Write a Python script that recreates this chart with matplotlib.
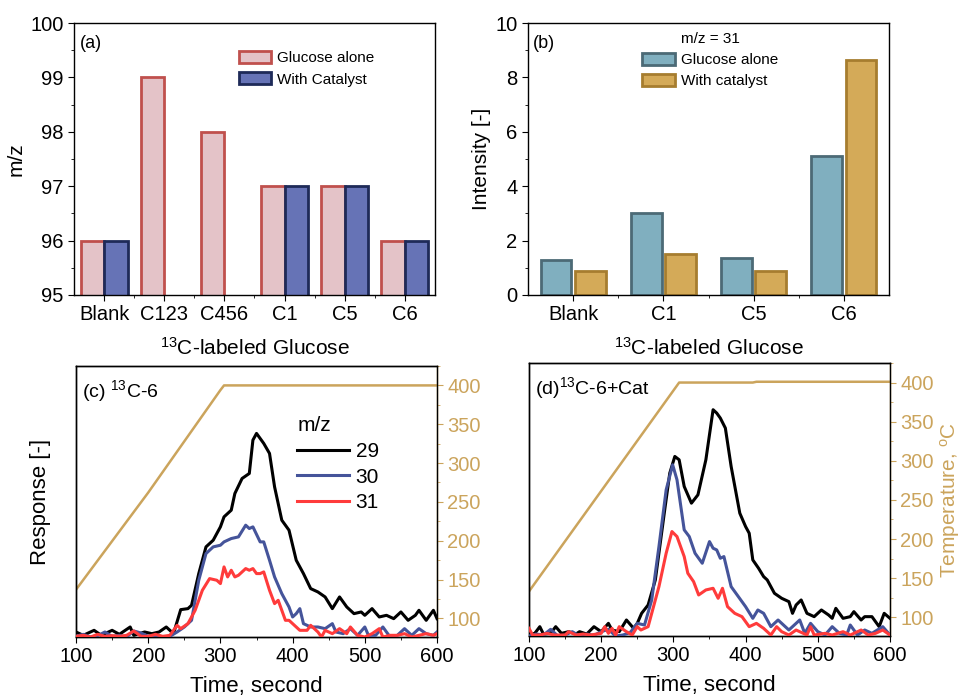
import matplotlib
matplotlib.use("Agg")
import matplotlib.pyplot as plt
from matplotlib.ticker import MultipleLocator, FixedLocator
import numpy as np

plt.rcParams['font.family'] = ['Liberation Sans', 'DejaVu Sans']
plt.rcParams['mathtext.fontset'] = 'custom'
plt.rcParams['mathtext.rm'] = 'Liberation Sans'
plt.rcParams['mathtext.it'] = 'Liberation Sans:italic'
plt.rcParams['xtick.direction'] = 'out'
plt.rcParams['ytick.direction'] = 'out'
plt.rcParams['axes.linewidth'] = 1.0

# ---- panel (a): m/z of the labeled fragment ----
cats_a = ["Blank", "C123", "C456", "C1", "C5", "C6"]
mz_alone = [96, 99, 98, 97, 97, 96]
mz_cat = [96, None, None, 97, 97, 96]

# ---- panel (b): intensity of m/z = 31 ----
cats_b = ["Blank", "C1", "C5", "C6"]
int_alone = [1.27, 3.0, 1.35, 5.12]
int_cat = [0.9, 1.5, 0.9, 8.63]

# ---- panel (c): 13C-6, response (arb. units) ----
tc_29 = [100, 110, 125, 135, 150, 160, 175, 180, 195, 205, 215, 225, 235, 245, 255, 260, 270, 280,
         290, 300, 305, 315, 320, 330, 340, 345, 350, 360, 368, 375, 385, 395, 405, 415, 425, 435,
         445, 455, 465, 475, 485, 495, 500, 510, 520, 530, 540, 550, 560, 570, 575, 585, 595, 600]
rc_29 = [15, 5, 20, 5, 20, 8, 30, 5, 15, 10, 15, 30, 10, 82, 85, 95, 190, 270,
         290, 330, 360, 380, 430, 475, 490, 590, 610, 580, 550, 450, 350, 320, 230, 190, 145, 135,
         120, 85, 120, 90, 70, 75, 65, 85, 60, 65, 55, 75, 50, 65, 80, 50, 80, 55]
tc_30 = [100, 110, 120, 130, 140, 150, 160, 170, 180, 190, 200, 210, 220, 230, 240, 250, 260, 270,
         280, 290, 300, 305, 315, 325, 335, 340, 345, 355, 360, 368, 375, 385, 395, 400, 405, 410,
         415, 425, 435, 445, 455, 460, 470, 480, 490, 500, 505, 515, 525, 535, 545, 555, 565, 575,
         585, 595, 600]
rc_30 = [2, 8, 0, 4, 15, 2, 5, 0, 18, 12, 2, 5, 0, 2, 15, 30, 50, 170,
         250, 270, 275, 285, 295, 300, 335, 325, 330, 285, 285, 230, 180, 130, 90, 60, 70, 85,
         40, 30, 30, 25, 40, 15, 10, 25, 5, 30, 5, 5, 30, 0, 5, 25, 5, 25,
         10, 5, 15]
tc_31 = [100, 110, 120, 130, 140, 150, 160, 170, 180, 190, 200, 210, 220, 230, 240, 245, 255, 265,
         275, 285, 295, 300, 305, 310, 315, 320, 325, 335, 340, 345, 350, 355, 360, 368, 375, 380,
         385, 390, 395, 400, 410, 420, 425, 435, 440, 445, 455, 465, 475, 480, 490, 500, 510, 520,
         525, 535, 545, 555, 565, 575, 585, 595, 600]
rc_31 = [2, 5, 0, 8, 2, 4, 2, 5, 18, 2, 2, 8, 2, 5, 35, 25, 40, 80,
         140, 175, 170, 160, 210, 180, 200, 180, 185, 205, 200, 205, 190, 190, 195, 140, 100, 110,
         80, 50, 50, 40, 20, 20, 35, 15, 0, 20, 10, 25, 10, 30, 5, 0, 10, 25,
         0, 5, 5, 10, 0, 5, 10, 5, 10]
tc_temp = [100, 200, 250, 300, 305, 600]
temp_c = [137, 262, 328, 394, 400, 400]

# ---- panel (d): 13C-6 + catalyst ----
td_29 = [100, 108, 115, 120, 130, 137, 145, 155, 165, 170, 180, 190, 200, 210, 215, 225, 235, 245,
         250, 256, 265, 275, 288, 295, 302, 308, 315, 325, 334, 345, 355, 360, 365, 372, 380, 392,
         400, 405, 410, 418, 425, 430, 440, 450, 460, 465, 470, 477, 485, 495, 505, 515, 520, 525,
         535, 545, 550, 560, 565, 575, 585, 592, 600]
rd_29 = [3, 8, 28, 6, 8, 28, 8, 13, 6, 13, 6, 28, 13, 38, 18, 13, 48, 23,
         38, 68, 93, 168, 378, 488, 538, 528, 448, 398, 423, 528, 678, 668, 653, 623, 508, 368,
         328, 308, 228, 203, 178, 168, 128, 113, 103, 68, 93, 108, 68, 58, 78, 63, 53, 83,
         53, 58, 73, 48, 58, 58, 28, 68, 53]
td_30 = [100, 110, 120, 130, 140, 150, 160, 170, 180, 190, 200, 210, 220, 230, 240, 250, 260, 270,
         280, 290, 299, 305, 315, 322, 330, 340, 350, 355, 360, 365, 370, 380, 390, 400, 410, 417,
         425, 435, 445, 455, 460, 475, 482, 490, 500, 510, 520, 530, 540, 545, 555, 565, 575, 590,
         600]
rd_30 = [0, 6, 3, 20, 0, 3, 13, 0, 6, 2, 13, 20, 0, 3, 10, 38, 33, 108,
         268, 438, 513, 468, 318, 298, 248, 218, 283, 263, 258, 233, 238, 148, 118, 88, 53, 78,
         68, 28, 48, 28, 18, 48, 8, 38, 13, 3, 28, 8, 3, 33, 3, 18, 8, 28,
         3]
td_31 = [100, 105, 115, 125, 135, 150, 155, 165, 175, 185, 200, 205, 210, 215, 220, 225, 235, 243,
         250, 255, 265, 270, 280, 290, 298, 305, 315, 320, 328, 335, 345, 355, 362, 368, 375, 385,
         395, 405, 415, 425, 435, 443, 450, 460, 470, 480, 485, 490, 495, 510, 520, 535, 545, 560,
         570, 580, 590, 600]
rd_31 = [23, 3, 3, 8, 3, 3, 13, 3, 6, 3, 8, 28, 8, 23, 3, 28, 13, 3,
         28, 18, 28, 68, 148, 248, 313, 298, 238, 188, 163, 123, 138, 143, 113, 143, 88, 68,
         58, 28, 38, 23, 3, 28, 13, 3, 18, 8, 3, 28, 3, 8, 3, 13, 3, 18,
         3, 8, 18, 3]
td_temp = [100, 308, 410, 415, 600]
temp_d = [133, 400, 400, 401, 401]

GOLD = "#CBA45C"
C29, C30, C31 = "#000000", "#45549A", "#FF3B3B"
TICK = 14.5

fig = plt.figure(figsize=(9.66, 6.99), dpi=100)
ax_a = fig.add_axes([0.0766, 0.578, 0.3737, 0.389])
ax_b = fig.add_axes([0.5466, 0.578, 0.3737, 0.389])
ax_c = fig.add_axes([0.0787, 0.0887, 0.3737, 0.3877])
ax_d = fig.add_axes([0.5476, 0.0901, 0.3737, 0.3906])


def cat_axis(ax, cats):
    x = np.arange(len(cats))
    ax.set_xticks(x)
    ax.set_xticklabels(cats)
    ax.xaxis.set_minor_locator(FixedLocator(x[:-1] + 0.5))
    ax.set_xlim(-0.5, len(cats) - 0.5)
    ax.tick_params(axis="both", which="major", labelsize=TICK, length=4)
    ax.tick_params(axis="both", which="minor", length=2)
    return x


# (a)
x = cat_axis(ax_a, cats_a)
w = 0.39
xa1 = [xi - w / 2 for xi, v in zip(x, mz_alone) if v is not None]
va1 = [v for v in mz_alone if v is not None]
xa2 = [xi + w / 2 for xi, v in zip(x, mz_cat) if v is not None]
va2 = [v for v in mz_cat if v is not None]
ax_a.bar(xa1, va1, w, color="#E4C3C8", edgecolor="#C0504D", linewidth=2, label="Glucose alone")
ax_a.bar(xa2, va2, w, color="#6673B6", edgecolor="#1E2A58", linewidth=2, label="With Catalyst")
ax_a.set_ylim(95, 100)
ax_a.yaxis.set_major_locator(MultipleLocator(1))
ax_a.yaxis.set_minor_locator(MultipleLocator(0.5))
ax_a.set_ylabel("m/z", fontsize=15, labelpad=3)
ax_a.set_xlabel(r"$^{\mathrm{13}}$C-labeled Glucose", fontsize=15, labelpad=9)
ax_a.text(0.017, 0.955, "(a)", transform=ax_a.transAxes, fontsize=13, va="top")
ax_a.legend(loc="upper left", bbox_to_anchor=(0.44, 0.92), frameon=False, fontsize=11,
            handlelength=2.1, handleheight=0.85, labelspacing=0.45, borderaxespad=0,
            handletextpad=0.4)

# (b)
x = cat_axis(ax_b, cats_b)
w = 0.34
ax_b.bar(x - 0.19, int_alone, w, color="#80AFBF", edgecolor="#4C6A76", linewidth=2,
         label="Glucose alone")
ax_b.bar(x + 0.19, int_cat, w, color="#D4AA58", edgecolor="#A67D2F", linewidth=2,
         label="With catalyst")
ax_b.set_ylim(0, 10)
ax_b.yaxis.set_major_locator(MultipleLocator(2))
ax_b.yaxis.set_minor_locator(MultipleLocator(1))
ax_b.set_ylabel("Intensity [-]", fontsize=15, labelpad=3)
ax_b.set_xlabel(r"$^{\mathrm{13}}$C-labeled Glucose", fontsize=15, labelpad=9)
ax_b.text(0.014, 0.955, "(b)", transform=ax_b.transAxes, fontsize=13, va="top")
ax_b.legend(loc="upper left", bbox_to_anchor=(0.30, 0.99), frameon=False, fontsize=11,
            title="m/z = 31", title_fontsize=11, handlelength=2.1, handleheight=0.85,
            labelspacing=0.45, borderaxespad=0, handletextpad=0.4)


def time_panel(ax, series, t_temp, temp, ytop, label, show_ylabel, show_rlabel):
    for t, r, c, lab in series:
        ax.plot(t, r, color=c, linewidth=2.2, label=lab, zorder=3)
    ax.set_xlim(100, 600)
    ax.set_ylim(0, ytop)
    ax.set_yticks([])
    ax.xaxis.set_major_locator(MultipleLocator(100))
    ax.xaxis.set_minor_locator(MultipleLocator(50))
    ax.tick_params(axis="x", which="major", labelsize=TICK, length=4)
    ax.tick_params(axis="x", which="minor", length=2)
    ax.set_xlabel("Time, second", fontsize=16, labelpad=7)
    if show_ylabel:
        ax.set_ylabel("Response [-]", fontsize=16, labelpad=18)
    ax.text(0.017, 0.955, label, transform=ax.transAxes, fontsize=14, va="top")

    tw = ax.twinx()
    tw.plot(t_temp, temp, color=GOLD, linewidth=1.8, zorder=2)
    tw.set_ylim(76, 425)
    tw.yaxis.set_major_locator(MultipleLocator(50))
    tw.yaxis.set_minor_locator(MultipleLocator(25))
    tw.set_yticks([100, 150, 200, 250, 300, 350, 400])
    tw.tick_params(axis="y", which="major", labelsize=TICK, length=4, colors=GOLD)
    tw.tick_params(axis="y", which="minor", length=2, colors=GOLD)
    tw.spines["right"].set_color(GOLD)
    if show_rlabel:
        tw.set_ylabel(r"Temperature, $^{\mathrm{o}}$C", fontsize=15, color=GOLD, labelpad=3)
    ax.set_zorder(tw.get_zorder() + 1)
    ax.patch.set_visible(False)
    return tw


time_panel(ax_c, [(tc_29, rc_29, C29, "29"), (tc_30, rc_30, C30, "30"), (tc_31, rc_31, C31, "31")],
           tc_temp, temp_c, 812, r"(c) $^{\mathrm{13}}$C-6", True, False)
leg = ax_c.legend(loc="upper left", bbox_to_anchor=(0.59, 0.845), frameon=False, fontsize=15,
                  title="m/z", title_fontsize=15, alignment="left", handlelength=2.5,
                  labelspacing=0.32, borderaxespad=0, handletextpad=0.3)

time_panel(ax_d, [(td_29, rd_29, C29, "29"), (td_30, rd_30, C30, "30"), (td_31, rd_31, C31, "31")],
           td_temp, temp_d, 818, r"(d)$^{\mathrm{13}}$C-6+Cat", False, True)

fig.savefig("out.png", dpi=100)
